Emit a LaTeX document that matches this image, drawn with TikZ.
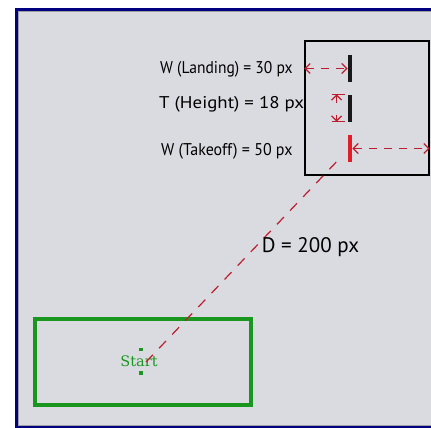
\documentclass[tikz,border=0pt]{standalone}
\usepackage{fontspec}
\setmainfont{PT Sans}
\newfontfamily\startfont{DejaVu Serif}
\usetikzlibrary{arrows.meta,positioning}
\definecolor{FrameNavy}{RGB}{0,0,128}
\definecolor{PanelGray}{RGB}{218,219,225}
\definecolor{ZoneGreen}{RGB}{24,150,30}
\definecolor{DimRed}{RGB}{190,30,45}
\definecolor{BarRed}{RGB}{225,30,40}
\tikzset{
    panel/.style={draw=FrameNavy, line width=3pt, fill=PanelGray},
    targetbox/.style={draw, line width=1.3pt, minimum width=124pt, minimum height=134pt, inner sep=0pt},
    zonebox/.style={draw=ZoneGreen, line width=4pt, minimum width=216pt, minimum height=86pt, inner sep=0pt},
    bar/.style={fill=black!90, minimum width=4.5pt, minimum height=27pt, inner sep=0pt},
    redbar/.style={bar, fill=BarRed},
    dimlabel/.style={anchor=west, font=\fontsize{17}{20}\selectfont, inner sep=0pt},
    dimarr/.style={{Straight Barb[length=5pt,width=10pt]}-{Straight Barb[length=5pt,width=10pt]}, draw=DimRed, line width=1.2pt, dash pattern=on 8pt off 7pt},
    distline/.style={draw=DimRed, line width=1.2pt, dash pattern=on 10pt off 9pt},
    tickmark/.style={fill=ZoneGreen, minimum size=3.5pt, inner sep=0pt},
}
\begin{document}
\begin{tikzpicture}[x=1pt,y=-1pt]
\useasboundingbox (0,0) rectangle (431,428);
\clip (0,0) rectangle (431,428);
\draw[panel] (16.5,9.5) rectangle (445,427.5);
\draw[gray!75, line width=0.8pt] (18.4,11.4) rectangle (442,425.6);

\node[targetbox] (target) at (367,108) {};
\node[bar] (landing) at (350,68.5) {};
\node[bar] (height) at (350,108) {};
\node[redbar] (takeoff) at (350,148.5) {};

\node[dimlabel] (wland) at (160,69) {\scalebox{0.915}[1]{W (Landing) = 30 px}};
\node[dimlabel] (theight) at (159,104) {\scalebox{1.11}[1]{T (Height) = 18 px}};
\node[dimlabel] (wtake) at (161,151) {\scalebox{0.94}[1]{W (Takeoff) = 50 px}};

\draw[dimarr] (target.west |- landing) -- (landing.west);
\draw[dimarr] (takeoff.east) -- (target.east |- takeoff);
\draw[DimRed, line width=1.2pt] ([xshift=-16pt]height.north west) -- ([xshift=-3pt]height.north west);
\draw[DimRed, line width=1.2pt] ([xshift=-16pt]height.south west) -- ([xshift=-3pt]height.south west);
\draw[dimarr, dash pattern=on 7pt off 12pt] ([xshift=-11pt]height.north west) -- ([xshift=-11pt]height.south west);

\node[zonebox] (zone) at (143,362) {};
\node[font=\startfont\fontsize{14.5}{17}\selectfont, text=ZoneGreen, inner sep=0pt] (startlbl) at (139,361) {Start};
\node[tickmark] (tickup) at (141,349.5) {};
\node[tickmark] (tickdn) at (141,373) {};

\coordinate (launch) at (146,362);
\coordinate (aim) at (342,156);
\draw[distline] (launch) -- (aim);
\node[font=\fontsize{21}{24}\selectfont, inner sep=0pt] (dist) at (310.5,247.5) {D = 200 px};
\end{tikzpicture}
\end{document}
